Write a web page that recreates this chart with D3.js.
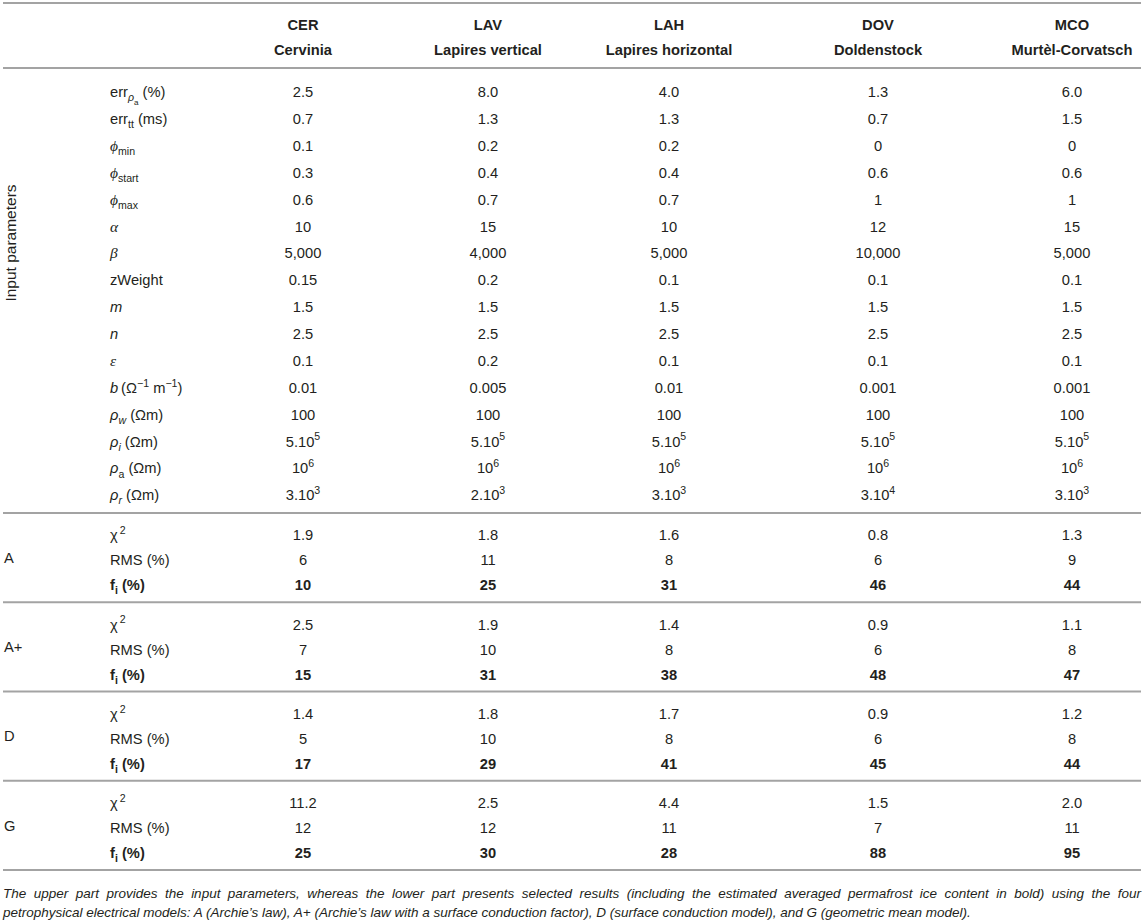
<!DOCTYPE html>
<html>
<head>
<meta charset="utf-8">
<script src="https://cdn.jsdelivr.net/npm/d3@7"></script>
<style>
  body { margin: 0; background: #fff; }
  svg { display: block; }
</style>
</head>
<body>
<div id="table"></div>
<script>
// ---- data ----
const sites = ["CER", "LAV", "LAH", "DOV", "MCO"];
const siteNames = ["Cervinia", "Lapires vertical", "Lapires horizontal", "Doldenstock", "Murtèl-Corvatsch"];

// labels as [text, style] pieces
const paramLabels = [
  [["err"], ["ρ", "subi"], ["a", "ssub"], [" (%)"]],
  [["err"], ["tt", "sub"], [" (ms)"]],
  [["ϕ", "gi"], ["min", "sub"]],
  [["ϕ", "gi"], ["start", "sub"]],
  [["ϕ", "gi"], ["max", "sub"]],
  [["α", "gi"]],
  [["β", "gi"]],
  [["zWeight"]],
  [["m", "i"]],
  [["n", "i"]],
  [["ε", "gi"]],
  [["b", "i"], ["\u2009(Ω"], ["−1", "sup"], [" m"], ["−1", "sup"], [")"]],
  [["ρ", "i"], ["w", "subi"], [" (Ωm)"]],
  [["ρ", "i"], ["i", "subi"], [" (Ωm)"]],
  [["ρ", "i"], ["a", "sub"], [" (Ωm)"]],
  [["ρ", "i"], ["r", "subi"], [" (Ωm)"]]
];

const paramValues = [
  ["2.5", "8.0", "4.0", "1.3", "6.0"],
  ["0.7", "1.3", "1.3", "0.7", "1.5"],
  ["0.1", "0.2", "0.2", "0", "0"],
  ["0.3", "0.4", "0.4", "0.6", "0.6"],
  ["0.6", "0.7", "0.7", "1", "1"],
  ["10", "15", "10", "12", "15"],
  ["5,000", "4,000", "5,000", "10,000", "5,000"],
  ["0.15", "0.2", "0.1", "0.1", "0.1"],
  ["1.5", "1.5", "1.5", "1.5", "1.5"],
  ["2.5", "2.5", "2.5", "2.5", "2.5"],
  ["0.1", "0.2", "0.1", "0.1", "0.1"],
  ["0.01", "0.005", "0.01", "0.001", "0.001"],
  ["100", "100", "100", "100", "100"],
  ["5.10^5", "5.10^5", "5.10^5", "5.10^5", "5.10^5"],
  ["10^6", "10^6", "10^6", "10^6", "10^6"],
  ["3.10^3", "2.10^3", "3.10^3", "3.10^4", "3.10^3"]
];

const models = ["A", "A+", "D", "G"];
const metricLabels = [
  [["χ"], ["\u20092", "sup"]],
  [["RMS (%)"]],
  [["f", "b"], ["i", "subb"], [" (%)", "b"]]
];
const chi2 = [
  ["1.9", "1.8", "1.6", "0.8", "1.3"],
  ["2.5", "1.9", "1.4", "0.9", "1.1"],
  ["1.4", "1.8", "1.7", "0.9", "1.2"],
  ["11.2", "2.5", "4.4", "1.5", "2.0"]
];
const rms = [
  ["6", "11", "8", "6", "9"],
  ["7", "10", "8", "6", "8"],
  ["5", "10", "8", "6", "8"],
  ["12", "12", "11", "7", "11"]
];
const iceContent = [
  ["10", "25", "31", "46", "44"],
  ["15", "31", "38", "48", "47"],
  ["17", "29", "41", "45", "44"],
  ["25", "30", "28", "88", "95"]
];

const captionLines = [
  "The upper part provides the input parameters, whereas the lower part presents selected results (including the estimated averaged permafrost ice content in bold) using the four",
  "petrophysical electrical models: A (Archie’s law), A+ (Archie’s law with a surface conduction factor), D (surface conduction model), and G (geometric mean model)."
];

// ---- layout ----
const width = 1144, height = 920;
const left = 3, right = 1141;
const fs = 14.7;
const ink = "#231f20";
const rule = "#a3a3a3";
const sans = "'Liberation Sans', Arial, Helvetica, sans-serif";
const serif = "'Liberation Serif', 'DejaVu Serif', serif";

const svg = d3.select("#table").append("svg")
  .attr("width", width).attr("height", height)
  .attr("font-family", sans).attr("font-size", fs).attr("fill", ink);

const x = d3.scaleOrdinal().domain(sites).range([303, 488, 669, 878, 1072]);
const yParam = d3.scaleLinear().domain([0, paramLabels.length - 1]).range([92, 495]);
const yModel = d3.scaleBand().domain(models).range([513, 870]);
const yMetric = d3.scalePoint().domain([0, 1, 2]).range([22, 72]);

// style pieces
const styles = {
  "":    { k: 1,    dy: 0 },
  i:     { k: 1,    dy: 0, italic: true },
  gi:    { k: 1.05, dy: 0, italic: true, family: serif },
  b:     { k: 1,    dy: 0, bold: true },
  sub:   { k: 0.72, dy: 0.28 },
  subi:  { k: 0.72, dy: 0.28, italic: true },
  subb:  { k: 0.72, dy: 0.28, bold: true },
  ssub:  { k: 0.55, dy: 0.5 },
  sup:   { k: 0.72, dy: -0.42 }
};

function rich(text, pieces, size) {
  let cur = 0;
  pieces.forEach(([t, st = ""]) => {
    const s = styles[st];
    const shift = s.dy * size;
    const ts = text.append("tspan")
      .attr("dy", shift - cur)
      .attr("font-size", size * s.k)
      .text(t);
    if (s.italic) ts.attr("font-style", "italic");
    if (s.bold) ts.attr("font-weight", "bold");
    if (s.family) ts.attr("font-family", s.family);
    cur = shift;
  });
}

function valuePieces(v, bold) {
  const [base, sup] = v.split("^");
  const p = [[base, bold ? "b" : ""]];
  if (sup) p.push([sup, "sup"]);
  return p;
}

function cell(g, px, py, pieces, anchor) {
  const t = g.append("text")
    .attr("x", px).attr("y", py + fs * 0.36)
    .attr("text-anchor", anchor);
  rich(t, pieces, fs);
  return t;
}

// rules
const rules = [3, 68, ...models.map(m => yModel(m)), yModel.range()[1]];
svg.append("g").selectAll("line").data(rules).join("line")
  .attr("x1", left).attr("x2", right)
  .attr("y1", d => d).attr("y2", d => d)
  .attr("stroke", rule).attr("stroke-width", 1.8);

// header
const head = svg.append("g").attr("font-weight", "bold").attr("text-anchor", "middle");
head.selectAll("text.code").data(sites).join("text")
  .attr("class", "code")
  .attr("x", d => x(d)).attr("y", 25 + fs * 0.36)
  .text(d => d);
head.selectAll("text.name").data(siteNames).join("text")
  .attr("class", "name")
  .attr("x", (d, i) => x(sites[i])).attr("y", 50 + fs * 0.36)
  .text(d => d);

// input parameters
const body = svg.append("g");
svg.append("text")
  .attr("transform", "translate(16,243) rotate(-90)")
  .attr("text-anchor", "middle")
  .attr("font-size", 15.5)
  .text("Input parameters");

paramLabels.forEach((lab, r) => {
  cell(body, 110, yParam(r), lab, "start");
  paramValues[r].forEach((v, c) => cell(body, x(sites[c]), yParam(r), valuePieces(v), "middle"));
});

// results per model
const metricValues = [chi2, rms, iceContent];
models.forEach((m, mi) => {
  const y0 = yModel(m);
  body.append("text")
    .attr("x", 4).attr("y", y0 + yModel.bandwidth() / 2 + fs * 0.36)
    .text(m);
  metricLabels.forEach((lab, k) => {
    const py = y0 + yMetric(k);
    cell(body, 110, py, lab, "start");
    metricValues[k][mi].forEach((v, c) =>
      cell(body, x(sites[c]), py, valuePieces(v, k === 2), "middle"));
  });
});

// caption (first line justified)
const cap = svg.append("g").attr("font-style", "italic").attr("font-size", 13.5);
const capY = [898, 917];
const line1 = cap.append("text").attr("y", capY[0]);
const words = captionLines[0].split(" ");
const spans = words.map(w => line1.append("tspan").text(w));
const widths = spans.map(s => s.node().getComputedTextLength());
const gap = (right - left - d3.sum(widths)) / (words.length - 1);
let cx = left;
spans.forEach((s, i) => { s.attr("x", cx); cx += widths[i] + gap; });
cap.append("text").attr("x", left).attr("y", capY[1]).text(captionLines[1]);
</script>
</body>
</html>
